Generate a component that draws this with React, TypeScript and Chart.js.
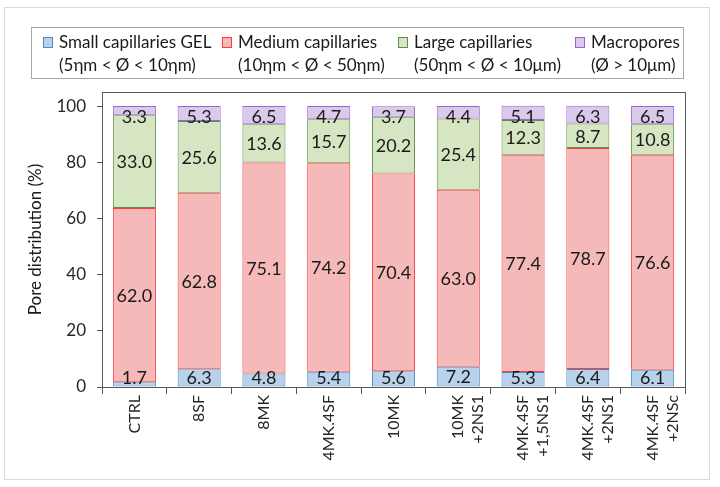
import React, { useEffect, useRef } from 'react';
import { Chart, registerables } from 'chart.js';

Chart.register(...registerables);

const categories: string[][] = [
  ['CTRL'],
  ['8SF'],
  ['8MK'],
  ['4MK.4SF'],
  ['10MK'],
  ['10MK', '+2NS1'],
  ['4MK.4SF', '+1,5NS1'],
  ['4MK.4SF', '+2NS1'],
  ['4MK.4SF', '+2NSc'],
];

const smallCapillaries = [1.7, 6.3, 4.8, 5.4, 5.6, 7.2, 5.3, 6.4, 6.1];
const mediumCapillaries = [62.0, 62.8, 75.1, 74.2, 70.4, 63.0, 77.4, 78.7, 76.6];
const largeCapillaries = [33.0, 25.6, 13.6, 15.7, 20.2, 25.4, 12.3, 8.7, 10.8];
const macropores = [3.3, 5.3, 6.5, 4.7, 3.7, 4.4, 5.1, 6.3, 6.5];

const seriesNames = ['Small capillaries GEL', 'Medium capillaries', 'Large capillaries', 'Macropores'];
const seriesRanges = ['(5ηm < Ø < 10ηm)', '(10ηm < Ø < 50ηm)', '(50ηm < Ø < 10μm)', '(Ø > 10μm)'];

const yMin = 0;
const yMax = 105;
const yStep = 20;
const yTitle = 'Pore distribution (%)';

const FONT = 'Lato, "Noto Sans", sans-serif';

const fills = ['#b7d2ea', '#f5b9b9', '#d6e6c3', '#d9cae9'];
const borders = ['#4a8ac4', '#ff3b3b', '#5e8f4a', '#a25fd6'];

const frameAndLegend = {
  id: 'frameAndLegend',
  afterDraw(chart: any) {
    const ctx = chart.ctx;
    const ca = chart.chartArea;
    ctx.save();
    // outer frame
    ctx.strokeStyle = '#d9d9d9';
    ctx.lineWidth = 1;
    ctx.strokeRect(4.5, 7.5, 705, 472);
    // plot area box
    ctx.strokeStyle = '#595959';
    ctx.strokeRect(Math.round(ca.left) + 0.5, Math.round(ca.top) + 0.5, Math.round(ca.right - ca.left), Math.round(ca.bottom - ca.top));
    // legend box
    ctx.strokeStyle = '#a6a6a6';
    ctx.strokeRect(31.5, 27.5, 652, 51);
    const textX = [59, 238, 414, 591];
    ctx.font = '17px ' + FONT;
    ctx.fillStyle = '#1a1a1a';
    ctx.textAlign = 'left';
    ctx.textBaseline = 'alphabetic';
    chart.data.datasets.forEach((ds: any, i: number) => {
      const x = textX[i];
      ctx.fillStyle = ds.backgroundColor;
      ctx.fillRect(x - 16, 37, 10, 11);
      ctx.strokeStyle = ds.borderColor;
      ctx.strokeRect(x - 15.5, 37.5, 9, 10);
      ctx.fillStyle = '#1a1a1a';
      ctx.fillText(seriesNames[i], x, 48);
      ctx.fillText(seriesRanges[i], x, 71);
    });
    ctx.restore();
  },
};

const barLabels = {
  id: 'barLabels',
  afterDatasetsDraw(chart: any) {
    const ctx = chart.ctx;
    const yScale = chart.scales.y;
    const datasets = chart.data.datasets;
    ctx.save();
    ctx.font = '18px ' + FONT;
    ctx.fillStyle = '#1a1a1a';
    ctx.textAlign = 'center';
    ctx.textBaseline = 'middle';
    datasets.forEach((ds: any, di: number) => {
      const meta = chart.getDatasetMeta(di);
      meta.data.forEach((bar: any, i: number) => {
        const { x, y, base } = bar.getProps(['x', 'y', 'base'], true);
        let total = 0;
        datasets.forEach((d: any) => (total += d.data[i]));
        const top = yScale.getPixelForValue(total);
        const bottom = yScale.getPixelForValue(0);
        let cy = (y + base) / 2;
        cy = Math.min(Math.max(cy, top + 10), bottom - 10);
        ctx.fillText(Number(ds.data[i]).toFixed(1), x, cy + 1);
      });
    });
    ctx.restore();
  },
};

export default function App() {
  const ref = useRef<HTMLCanvasElement | null>(null);

  useEffect(() => {
    if (!ref.current) return;
    const seriesData = [smallCapillaries, mediumCapillaries, largeCapillaries, macropores];
    const chart = new Chart(ref.current, {
      type: 'bar',
      data: {
        labels: categories,
        datasets: seriesData.map((d, i) => ({
          label: seriesNames[i],
          data: d,
          backgroundColor: fills[i],
          borderColor: borders[i],
          borderWidth: 1,
          borderSkipped: false,
          barPercentage: 0.665,
          categoryPercentage: 1,
        })),
      },
      options: {
        responsive: false,
        animation: false,
        layout: { padding: { top: 92, right: 35, left: 0, bottom: 0 } },
        plugins: {
          legend: { display: false },
          tooltip: { enabled: false },
        },
        scales: {
          x: {
            stacked: true,
            afterFit: (s: any) => {
              s.height = 100;
            },
            grid: {
              offset: true,
              drawOnChartArea: false,
              drawTicks: true,
              tickLength: 7,
              color: '#595959',
            },
            border: { display: true, color: '#595959' },
            ticks: {
              autoSkip: false,
              minRotation: 90,
              maxRotation: 90,
              padding: 1,
              color: '#262626',
              font: { family: FONT, size: 16, lineHeight: 1.25 },
            },
          },
          y: {
            stacked: true,
            min: yMin,
            max: yMax,
            afterFit: (s: any) => {
              s.width = 102;
            },
            grid: {
              drawOnChartArea: false,
              drawTicks: true,
              tickLength: 5,
              color: '#595959',
            },
            border: { display: true, color: '#595959' },
            ticks: {
              stepSize: yStep,
              includeBounds: false,
              padding: 11,
              color: '#262626',
              font: { family: FONT, size: 17 },
            },
            title: {
              display: true,
              text: yTitle,
              color: '#1a1a1a',
              font: { family: FONT, size: 17 },
              padding: { top: 25, bottom: 0 },
            },
          },
        },
      },
      plugins: [barLabels, frameAndLegend],
    });
    return () => chart.destroy();
  }, []);

  return (
    <div style={{ position: 'absolute', left: 0, top: 0, width: 720, height: 487, background: '#fff' }}>
      <canvas ref={ref} width={720} height={487} />
    </div>
  );
}
